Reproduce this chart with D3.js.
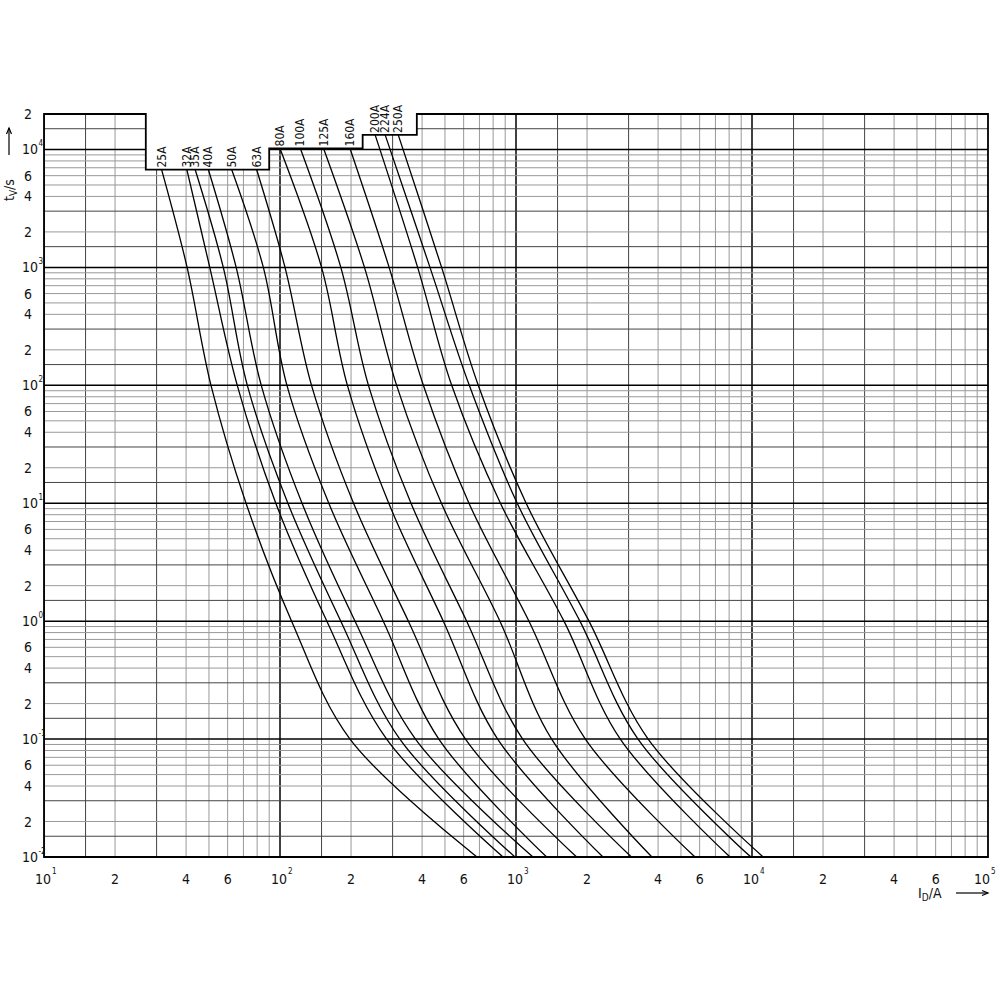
<!DOCTYPE html>
<html>
<head>
<meta charset="utf-8">
<script src="https://cdn.jsdelivr.net/npm/d3@7"></script>
<style>
  html, body { margin: 0; padding: 0; background: #fff; }
  svg text { font-family: "DejaVu Sans Condensed", "DejaVu Sans", sans-serif; font-stretch: condensed; fill: #111; }
</style>
</head>
<body>
<div id="chart"></div>
<script>
// fuse ratings, one curve each
const ratings = ["25A", "32A", "35A", "40A", "50A", "63A", "80A", "100A", "125A", "160A", "200A", "224A", "250A"];
// where each curve leaves the stepped top edge (s, A)
const startTimes = [6760, 6760, 6760, 6760, 6760, 6760, 10200, 10200, 10200, 10200, 13300, 13300, 13300];
const startCurrents = [31.5, 40.3, 43.7, 49.7, 62.4, 79.6, 100, 122, 153, 198, 253, 279, 317];
const timeLevels = [1000, 100, 10, 1, 0.1, 0.01];
// current (A) at each of timeLevels
const currents = [
  [40.4, 51, 71.8, 112, 198, 684],
  [50.4, 65.9, 96, 158, 283, 881],
  [57.5, 72.7, 108, 181, 322, 990],
  [65.2, 83.3, 124, 208, 375, 1180],
  [85, 107, 161, 274, 471, 1349],
  [105, 136, 205, 350, 611, 1807],
  [150, 193, 289, 492, 836, 2337],
  [181, 237, 359, 618, 1067, 3084],
  [228, 312, 483, 855, 1416, 3767],
  [290, 405, 632, 1135, 1968, 5732],
  [383, 534, 859, 1597, 2767, 8070],
  [432, 634, 1012, 1866, 3289, 9910],
  [484, 692, 1104, 2038, 3631, 11150]
];
// stepped top edge of the grid
const stepCurrents = [27, 90, 224, 380];
const stepTimes = [6760, 10200, 13300];
// tick labels
const xPowers = [1, 2, 3, 4, 5];
const yPowers = [-2, -1, 0, 1, 2, 3, 4];
const tickDigits = [2, 4, 6];

const W = 1000, H = 1000;
const svg = d3.select("#chart").append("svg").attr("width", W).attr("height", H);

const x = d3.scaleLog().domain([10, 1e5]).range([44, 988]);
const y = d3.scaleLog().domain([0.01, 2e4]).range([857, 114]);
const tMax = 2e4;

// outline of the drawing area
const outline = [
  [10, tMax], [stepCurrents[0], tMax], [stepCurrents[0], stepTimes[0]],
  [stepCurrents[1], stepTimes[0]], [stepCurrents[1], stepTimes[1]],
  [stepCurrents[2], stepTimes[1]], [stepCurrents[2], stepTimes[2]],
  [stepCurrents[3], stepTimes[2]], [stepCurrents[3], tMax],
  [1e5, tMax], [1e5, 0.01], [10, 0.01]
];
const outlineLine = d3.line().x(d => x(d[0])).y(d => y(d[1]));

svg.append("clipPath").attr("id", "area")
  .append("path").attr("d", outlineLine(outline) + "Z");

// grid lines
const mult = [1, 1.5, 2, 3, 4, 5, 6, 7, 8, 9];
const xGrid = [], yGrid = [];
for (let e = 1; e <= 4; e++) mult.forEach(m => xGrid.push({ v: m * Math.pow(10, e), m }));
for (let e = -2; e <= 4; e++) mult.forEach(m => { if (m * Math.pow(10, e) <= tMax) yGrid.push({ v: m * Math.pow(10, e), m }); });

const gridColor = m => m === 1 ? "#000" : (m === 1.5 || m === 3) ? "#444" : "#999";
const gridWidth = m => m === 1 ? 1.5 : 1;

const grid = svg.append("g").attr("clip-path", "url(#area)");
grid.selectAll(".vx").data(xGrid).enter().append("line")
  .attr("x1", d => x(d.v)).attr("x2", d => x(d.v))
  .attr("y1", y(tMax)).attr("y2", y(0.01))
  .attr("stroke", d => gridColor(d.m)).attr("stroke-width", d => gridWidth(d.m));
grid.selectAll(".hy").data(yGrid).enter().append("line")
  .attr("y1", d => y(d.v)).attr("y2", d => y(d.v))
  .attr("x1", x(10)).attr("x2", x(1e5))
  .attr("stroke", d => gridColor(d.m)).attr("stroke-width", d => gridWidth(d.m));

svg.append("path").attr("d", outlineLine(outline) + "Z")
  .attr("fill", "none").attr("stroke", "#000").attr("stroke-width", 1.8);

// curves
const curveLine = d3.line().x(d => x(d[0])).y(d => y(d[1])).curve(d3.curveCatmullRom.alpha(0.5));
const curveData = ratings.map((r, i) => [[startCurrents[i], startTimes[i]]]
  .concat(timeLevels.map((t, j) => [currents[i][j], t])));

svg.append("g").selectAll("path").data(curveData).enter().append("path")
  .attr("d", curveLine)
  .attr("fill", "none").attr("stroke", "#000").attr("stroke-width", 1.3);

svg.append("g").selectAll("text").data(ratings).enter().append("text")
  .attr("transform", (d, i) => `translate(${x(startCurrents[i]) + 4},${y(startTimes[i]) - 2}) rotate(-90)`)
  .style("font-size", "12px")
  .text(d => d);

// y tick labels
yPowers.forEach(e => {
  svg.append("text").attr("x", 38).attr("y", y(Math.pow(10, e)) + 5)
    .attr("text-anchor", "end").style("font-size", "14px").text("10");
  svg.append("text").attr("x", 38.5).attr("y", y(Math.pow(10, e)) - 3)
    .style("font-size", "8px").text(e);
});
const yDigits = [];
for (let e = -2; e <= 3; e++) tickDigits.forEach(m => yDigits.push({ v: m * Math.pow(10, e), m }));
yDigits.push({ v: 2e4, m: 2 });
svg.selectAll(".yd").data(yDigits).enter().append("text")
  .attr("x", 28).attr("y", d => y(d.v) + 5)
  .attr("text-anchor", "middle").style("font-size", "14px").text(d => d.m);

// x tick labels
xPowers.forEach(e => {
  const cx = x(Math.pow(10, e)) - (e === 5 ? 6 : 1);
  svg.append("text").attr("x", cx).attr("y", 884)
    .attr("text-anchor", "middle").style("font-size", "14px").text("10");
  svg.append("text").attr("x", cx + 9).attr("y", 874)
    .style("font-size", "8px").text(e);
});
const xDigits = [];
for (let e = 1; e <= 4; e++) tickDigits.forEach(m => xDigits.push({ v: m * Math.pow(10, e), m }));
svg.selectAll(".xd").data(xDigits).enter().append("text")
  .attr("x", d => x(d.v)).attr("y", 884)
  .attr("text-anchor", "middle").style("font-size", "14px").text(d => d.m);

// axis titles with arrows
const arrow = (g, x1, x2, yy) => {
  g.append("line").attr("x1", x1).attr("x2", x2).attr("y1", yy).attr("y2", yy)
    .attr("stroke", "#000").attr("stroke-width", 1.2);
  g.append("path").attr("d", `M${x2 - 6},${yy - 2.5}L${x2},${yy}L${x2 - 6},${yy + 2.5}`)
    .attr("fill", "none").attr("stroke", "#000").attr("stroke-width", 1.2);
};

const xt = svg.append("g");
const xTitle = xt.append("text").attr("x", 918).attr("y", 898).style("font-size", "14px");
xTitle.append("tspan").text("I");
xTitle.append("tspan").attr("dy", 3).style("font-size", "10px").text("D");
xTitle.append("tspan").attr("dy", -3).text("/A");
arrow(xt, 956, 988, 893);

const yt = svg.append("g").attr("transform", "translate(14,201) rotate(-90)");
const yTitle = yt.append("text").attr("x", 0).attr("y", 0).style("font-size", "14px");
yTitle.append("tspan").text("t");
yTitle.append("tspan").attr("dy", 3).style("font-size", "10px").text("V");
yTitle.append("tspan").attr("dy", -3).text("/s");
arrow(yt, 46, 73, -5);
</script>
</body>
</html>
